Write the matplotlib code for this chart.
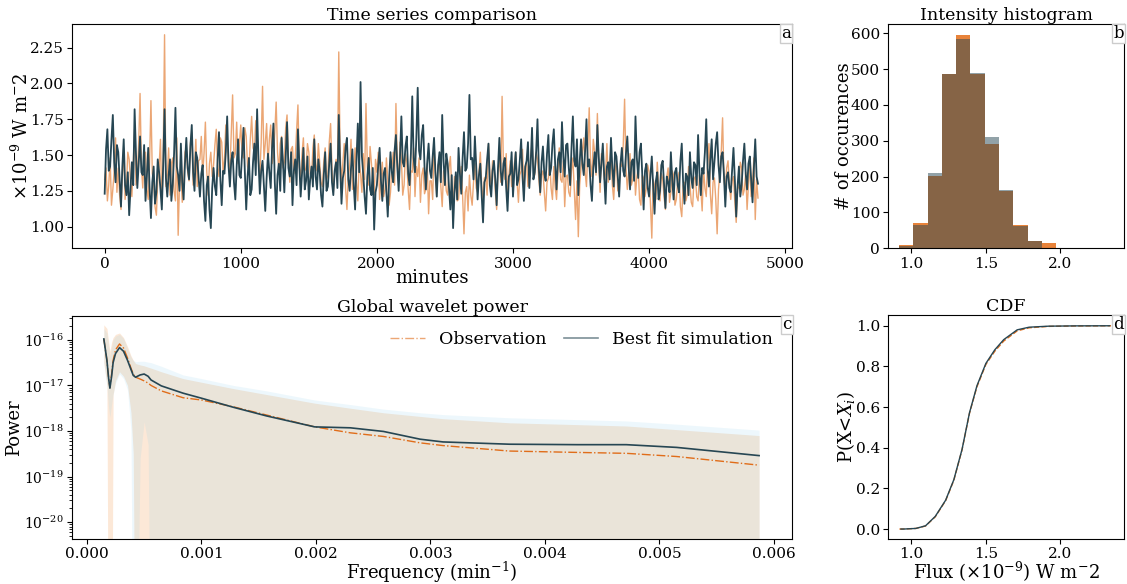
import numpy as np
import matplotlib
matplotlib.use("Agg")
import matplotlib.pyplot as plt
from matplotlib.lines import Line2D

plt.rcParams["font.family"] = "DejaVu Serif"
plt.rcParams["mathtext.fontset"] = "dejavuserif"

# ---- time series, one value every 10 minutes, x1e-9 W m^-2
ts_step = 10
obs_flux = [
    1.33, 1.41, 1.18, 1.29, 1.48, 1.15, 1.26, 1.39, 1.62, 1.24,
    1.41, 1.22, 1.12, 1.36, 1.55, 1.19, 1.28, 1.52, 1.47, 1.31,
    1.21, 1.44, 1.68, 1.29, 1.35, 1.58, 1.93, 1.42, 1.27, 1.49,
    1.52, 1.26, 1.19, 1.45, 1.88, 1.37, 1.31, 1.14, 1.08, 1.33,
    1.42, 1.61, 1.15, 1.48, 2.34, 1.28, 1.36, 1.55, 1.22, 1.44,
    1.48, 1.25, 1.18, 1.62, 0.94, 1.31, 1.39, 1.17, 1.27, 1.52,
    1.55, 1.38, 1.32, 1.58, 1.66, 1.29, 1.41, 1.61, 1.28, 1.46,
    1.47, 1.63, 1.36, 1.51, 1.73, 1.39, 1.22, 1.44, 1.52, 1.35,
    1.43, 1.57, 1.68, 1.41, 1.35, 1.62, 1.59, 1.38, 1.47, 1.71,
    1.62, 1.45, 1.38, 1.66, 1.92, 1.48, 1.51, 1.73, 1.44, 1.58,
    1.71, 1.52, 1.48, 1.69, 1.63, 1.42, 1.39, 1.61, 1.77, 1.55,
    1.52, 1.74, 1.66, 1.45, 1.36, 1.59, 1.98, 1.47, 1.58, 1.72,
    1.42, 1.61, 1.71, 1.44, 1.49, 1.66, 1.87, 1.52, 1.39, 1.58,
    1.63, 1.41, 1.45, 1.69, 1.78, 1.48, 1.31, 1.54, 1.56, 1.37,
    1.48, 1.67, 1.85, 1.42, 1.33, 1.51, 1.62, 1.39, 1.41, 1.58,
    1.52, 1.37, 1.34, 1.55, 1.64, 1.43, 1.39, 1.58, 1.45, 1.31,
    1.28, 1.46, 1.55, 1.33, 1.36, 1.59, 1.72, 1.41, 1.24, 1.38,
    1.47, 1.36, 2.22, 1.52, 1.31, 1.44, 1.58, 1.27, 1.12, 1.35,
    1.42, 1.61, 1.26, 1.39, 1.55, 1.31, 1.18, 1.46, 1.37, 1.24,
    1.51, 1.33, 1.86, 1.42, 1.29, 1.56, 1.44, 1.31, 1.22, 1.47,
    1.38, 1.52, 1.19, 1.34, 1.45, 1.21, 1.26, 1.48, 1.33, 1.15,
    1.24, 1.41, 1.52, 1.29, 1.86, 1.45, 1.31, 1.59, 1.47, 1.22,
    1.29, 1.51, 1.45, 1.26, 1.12, 1.39, 1.38, 1.55, 1.21, 1.42,
    1.35, 1.48, 1.17, 1.36, 1.41, 1.23, 1.26, 1.44, 1.09, 1.32,
    1.32, 1.19, 1.58, 1.37, 1.21, 1.43, 1.46, 1.28, 1.14, 1.39,
    1.38, 1.25, 1.22, 1.41, 1.49, 1.27, 1.08, 1.35, 1.31, 1.18,
    1.19, 1.33, 1.42, 1.21, 0.95, 1.24, 1.28, 1.11, 1.36, 1.22,
    1.15, 1.31, 1.44, 1.27, 1.24, 1.38, 1.52, 1.29, 1.18, 1.34,
    1.35, 1.22, 1.58, 1.37, 1.27, 1.46, 1.41, 1.25, 1.12, 1.39,
    1.48, 1.31, 1.91, 1.42, 1.33, 1.51, 1.22, 1.36, 1.46, 1.28,
    1.29, 1.44, 1.52, 1.31, 1.17, 1.36, 1.39, 1.54, 1.26, 1.41,
    1.45, 1.28, 1.31, 1.49, 1.58, 1.42, 1.36, 1.52, 1.47, 1.33,
    1.22, 1.36, 1.39, 1.24, 1.11, 1.31, 1.34, 1.45, 1.27, 1.19,
    1.42, 1.28, 1.19, 1.37, 1.55, 1.33, 1.31, 1.46, 1.14, 1.35,
    1.36, 1.24, 1.21, 1.39, 1.48, 1.26, 1.05, 1.32, 0.93, 1.29,
    1.41, 1.53, 1.62, 1.38, 1.28, 1.56, 1.83, 1.44, 1.35, 1.61,
    1.52, 1.36, 1.79, 1.45, 1.24, 1.51, 1.48, 1.33, 1.37, 1.58,
    1.31, 1.42, 1.55, 1.29, 1.19, 1.38, 1.46, 1.25, 1.28, 1.44,
    1.42, 1.57, 1.89, 1.41, 1.26, 1.38, 1.51, 1.29, 1.33, 1.47,
    1.22, 1.35, 1.41, 1.19, 1.15, 1.36, 1.34, 1.21, 1.27, 1.43,
    1.38, 1.16, 0.92, 1.33, 1.29, 1.19, 1.45, 1.28, 1.18, 1.37,
    1.33, 1.21, 1.12, 1.35, 1.41, 1.17, 1.24, 1.39, 1.36, 1.15,
    1.19, 1.32, 1.38, 1.14, 1.07, 1.29, 1.31, 1.18, 1.22, 1.42,
    1.29, 1.17, 1.14, 1.33, 1.35, 1.21, 1.18, 1.36, 1.26, 1.11,
    1.41, 1.27, 1.21, 1.45, 1.58, 1.23, 1.09, 1.31, 1.34, 1.19,
    0.95, 1.26, 1.38, 1.52, 1.76, 1.33, 1.25, 1.41, 1.46, 1.29,
    1.19, 1.32, 1.35, 1.17, 1.03, 1.26, 1.28, 1.45, 1.41, 1.22,
    1.26, 1.38, 1.12, 1.29, 1.44, 1.21, 1.31, 1.48, 1.05, 1.33,
    1.20,
]
sim_flux = [
    1.23, 1.54, 1.68, 1.39, 1.42, 1.61, 1.78, 1.45, 1.31, 1.57,
    1.52, 1.33, 1.14, 1.42, 1.61, 1.29, 1.22, 1.38, 1.08, 1.26,
    1.45, 1.29, 1.82, 1.51, 1.27, 1.44, 1.63, 1.38, 1.36, 1.57,
    1.18, 1.35, 1.55, 1.27, 1.06, 1.31, 1.42, 1.16, 1.24, 1.47,
    1.38, 1.26, 1.12, 1.43, 1.82, 1.34, 1.21, 1.36, 1.47, 1.18,
    1.29, 1.51, 1.83, 1.42, 1.36, 1.25, 1.58, 1.31, 1.19, 1.44,
    1.62, 1.41, 1.33, 1.56, 1.71, 1.38, 1.25, 1.52, 1.48, 1.34,
    1.21, 1.37, 1.43, 1.18, 1.04, 1.29, 1.35, 1.12, 0.99, 1.27,
    1.41, 1.28, 1.22, 1.47, 1.66, 1.33, 1.15, 1.39, 1.37, 1.52,
    1.77, 1.43, 1.28, 1.46, 1.52, 1.31, 1.19, 1.42, 1.61, 1.36,
    1.34, 1.51, 1.69, 1.38, 1.12, 1.35, 1.48, 1.22, 1.26, 1.45,
    1.58, 1.36, 1.82, 1.47, 1.23, 1.39, 1.46, 1.28, 1.11, 1.34,
    1.51, 1.38, 1.27, 1.55, 1.72, 1.31, 1.09, 1.36, 1.44, 1.25,
    1.62, 1.45, 1.24, 1.48, 1.73, 1.41, 1.35, 1.52, 1.15, 1.39,
    1.47, 1.29, 1.68, 1.44, 1.21, 1.37, 1.55, 1.26, 1.32, 1.49,
    1.19, 1.33, 1.42, 1.28, 1.61, 1.35, 1.26, 1.47, 1.38, 1.22,
    1.14, 1.36, 1.52, 1.25, 1.28, 1.44, 1.58, 1.31, 1.22, 1.39,
    1.45, 1.27, 1.78, 1.43, 1.16, 1.34, 1.39, 1.55, 1.62, 1.33,
    1.25, 1.41, 1.54, 1.29, 1.12, 1.46, 1.72, 1.38, 2.01, 1.49,
    1.36, 1.21, 1.09, 1.35, 1.48, 1.26, 1.22, 1.41, 0.98, 1.24,
    1.29, 1.43, 1.55, 1.32, 1.18, 1.37, 1.41, 1.24, 1.07, 1.33,
    1.52, 1.38, 1.31, 1.53, 1.64, 1.42, 1.25, 1.49, 1.77, 1.45,
    1.42, 1.56, 1.63, 1.37, 1.29, 1.51, 1.91, 1.48, 1.38, 1.62,
    1.97, 1.53, 1.47, 1.64, 1.71, 1.42, 1.26, 1.45, 1.58, 1.39,
    1.34, 1.49, 1.62, 1.38, 1.21, 1.43, 1.52, 1.31, 1.78, 1.46,
    1.29, 1.51, 1.44, 1.27, 1.12, 1.36, 0.99, 1.24, 1.38, 1.19,
    1.55, 1.37, 1.23, 1.48, 1.66, 1.39, 1.41, 1.58, 1.92, 1.47,
    1.48, 1.33, 1.63, 1.42, 1.19, 1.36, 1.44, 1.22, 1.03, 1.31,
    1.34, 1.47, 1.58, 1.29, 1.21, 1.39, 1.46, 1.33, 1.15, 1.41,
    1.62, 1.39, 1.29, 1.44, 1.48, 1.27, 1.11, 1.35, 1.37, 1.52,
    1.21, 1.38, 1.52, 1.29, 1.33, 1.46, 1.61, 1.35, 1.18, 1.42,
    1.46, 1.59, 1.27, 1.44, 1.69, 1.33, 1.38, 1.52, 1.75, 1.41,
    1.24, 1.45, 1.56, 1.37, 1.32, 1.51, 1.64, 1.36, 1.41, 1.58,
    1.68, 1.43, 1.26, 1.47, 1.52, 1.38, 1.73, 1.49, 1.35, 1.57,
    1.58, 1.41, 1.29, 1.55, 1.77, 1.46, 1.42, 1.61, 1.22, 1.45,
    1.61, 1.44, 1.36, 1.53, 1.75, 1.42, 1.47, 1.29, 1.18, 1.41,
    1.52, 1.38, 1.71, 1.49, 1.31, 1.45, 1.58, 1.36, 1.16, 1.42,
    1.45, 1.33, 1.62, 1.41, 1.28, 1.52, 1.49, 1.35, 1.21, 1.44,
    1.55, 1.39, 1.35, 1.51, 1.63, 1.42, 1.26, 1.45, 1.47, 1.32,
    1.77, 1.48, 1.34, 1.52, 1.58, 1.36, 1.12, 1.39, 1.44, 1.27,
    1.21, 1.36, 1.49, 1.28, 1.09, 1.32, 1.38, 1.19, 1.25, 1.43,
    1.46, 1.29, 1.13, 1.35, 1.31, 1.24, 1.52, 1.33, 1.19, 1.38,
    1.41, 1.29, 1.24, 1.46, 1.58, 1.31, 1.16, 1.37, 1.35, 1.22,
    1.52, 1.34, 1.27, 1.45, 1.43, 1.29, 1.64, 1.38, 1.22, 1.41,
    1.37, 1.52, 1.75, 1.41, 1.28, 1.47, 1.61, 1.33, 1.45, 1.58,
    1.66, 1.43, 1.31, 1.49, 1.52, 1.36, 1.14, 1.35, 1.38, 1.27,
    1.24, 1.39, 1.55, 1.33, 1.07, 1.28, 1.42, 1.21, 1.29, 1.46,
    1.58, 1.37, 1.26, 1.44, 1.49, 1.33, 1.17, 1.41, 1.61, 1.35,
    1.30,
]

# ---- intensity histogram (15 bins between data min and max)
hist_lo, hist_hi, hist_nbins = 0.917, 2.355, 15
obs_counts = [8, 70, 203, 487, 594, 487, 292, 160, 65, 20, 15, 0, 0, 1, 1]
sim_counts = [6, 65, 209, 486, 584, 489, 311, 163, 63, 19, 2, 1, 1, 0, 1]

# ---- global wavelet power (log10 of power)
freq = [0.000148, 0.000175, 0.000190, 0.000201, 0.000216, 0.000229, 0.000250,
        0.000285, 0.000320, 0.000355, 0.000385, 0.000405, 0.000425, 0.000465,
        0.000500, 0.000535, 0.000560, 0.000650, 0.000840, 0.00100, 0.00128,
        0.00157, 0.00199, 0.00230, 0.00259, 0.00291, 0.00311, 0.00369,
        0.00428, 0.00471, 0.00515, 0.00587]
obs_logpow = [-15.98, -16.45, -16.85, -17.05, -16.75, -16.45, -16.22, -16.09,
              -16.18, -16.40, -16.62, -16.75, -16.82, -16.86, -16.90, -16.95,
              -17.00, -17.12, -17.27, -17.32, -17.47, -17.65, -17.91, -18.04,
              -18.12, -18.26, -18.32, -18.44, -18.47, -18.49, -18.56, -18.75]
sim_logpow = [-15.98, -16.45, -16.85, -17.06, -16.80, -16.50, -16.30, -16.17,
              -16.25, -16.45, -16.65, -16.78, -16.82, -16.77, -16.75, -16.80,
              -16.88, -17.01, -17.17, -17.28, -17.48, -17.67, -17.91, -17.93,
              -18.01, -18.18, -18.24, -18.29, -18.30, -18.30, -18.36, -18.54]
obs_logup = [-15.67, -15.75, -16.05, -16.25, -16.05, -15.95, -15.88, -15.85,
             -15.95, -16.15, -16.35, -16.45, -16.52, -16.55, -16.57, -16.60,
             -16.62, -16.70, -16.85, -16.93, -17.07, -17.20, -17.39, -17.50,
             -17.60, -17.68, -17.73, -17.82, -17.86, -17.89, -17.97, -18.10]
sim_logup = [-15.75, -15.85, -16.15, -16.35, -16.15, -16.00, -15.92, -15.88,
             -15.97, -16.20, -16.38, -16.45, -16.48, -16.47, -16.47, -16.49,
             -16.50, -16.58, -16.77, -16.85, -17.00, -17.12, -17.32, -17.42,
             -17.52, -17.60, -17.64, -17.71, -17.75, -17.78, -17.85, -17.98]
obs_loglow = [-16.5, -17.0, -25, -25, -25, -17.2, -16.9, -16.70, -16.8, -17.0,
              -17.6, -18.5, -25, -25, -25, -25, -25, -25, -25, -25, -25, -25,
              -25, -25, -25, -25, -25, -25, -25, -25, -25, -25]
sim_loglow = [-16.5, -17.0, -17.5, -17.7, -17.4, -17.2, -16.95, -16.75, -16.85,
              -17.1, -18.0, -25, -25, -18.6, -17.8, -18.3, -25, -25, -25, -25,
              -25, -25, -25, -25, -25, -25, -25, -25, -25, -25, -25, -25]

# ---- CDF
cdf_x_obs = [0.92, 0.94, 1.03, 1.095, 1.16, 1.23, 1.285, 1.34, 1.39, 1.44,
             1.50, 1.56, 1.62, 1.71, 1.79, 1.92, 2.10, 2.34]
cdf_y_obs = [0.0, 0.0, 0.003, 0.015, 0.06, 0.14, 0.24, 0.39, 0.57, 0.70,
             0.81, 0.875, 0.925, 0.975, 0.99, 0.997, 0.999, 1.0]
cdf_x_sim = [0.93, 0.95, 1.03, 1.095, 1.16, 1.23, 1.285, 1.34, 1.39, 1.44,
             1.50, 1.56, 1.62, 1.71, 1.79, 1.92, 2.10, 2.33]
cdf_y_sim = [0.0, 0.0, 0.003, 0.016, 0.062, 0.142, 0.243, 0.392, 0.572, 0.705,
             0.815, 0.882, 0.932, 0.98, 0.993, 0.998, 0.9995, 1.0]

c_obs_ts = "#eba674"
c_obs = "#e06d1a"
c_sim = "#264653"

fig = plt.figure(figsize=(11.27, 5.84), dpi=100)
W, H = 1127.0, 584.0


def box(l, t, r, b):
    return [l / W, 1 - b / H, (r - l) / W, (b - t) / H]


def tag(ax, s):
    ax.text(0.999, 0.997, s, transform=ax.transAxes, ha="right", va="top",
            fontsize=12, bbox=dict(boxstyle="square,pad=0.06", fc="white",
                                   ec="#cccccc", lw=1))


fs_t, fs_l, fs_k = 12.5, 13, 11


def style(ax):
    ax.tick_params(labelsize=fs_k, length=3.5, pad=2.5)


# a: time series
ax = fig.add_axes(box(72, 24.3, 792, 248.3))
t = np.arange(len(obs_flux)) * ts_step
ax.plot(t, obs_flux, color=c_obs_ts, lw=1.0)
ax.plot(t, sim_flux, color=c_sim, lw=1.3)
ax.set_xlim(-240, 5050)
ax.set_ylim(0.849, 2.413)
ax.set_title("Time series comparison", fontsize=fs_t, pad=3)
ax.set_xlabel("minutes", fontsize=fs_l)
ax.set_ylabel(r"$\times10^{-9}$ W m$^{-}$2", fontsize=fs_l)
style(ax)
ax.xaxis.set_label_coords(0.5, -0.092)
ax.yaxis.set_label_coords(-0.056, 0.5)
tag(ax, "a")

# b: histogram
ax = fig.add_axes(box(888.3, 24.3, 1124, 248.3))
edges = np.linspace(hist_lo, hist_hi, hist_nbins + 1)
mids = 0.5 * (edges[1:] + edges[:-1])
ax.hist(mids, bins=edges, weights=obs_counts, color="#e8833a")
ax.hist(mids, bins=edges, weights=sim_counts, color=c_sim, alpha=0.5)
ax.set_xlim(0.845, 2.427)
ax.set_ylim(0, 625)
ax.set_title("Intensity histogram", fontsize=fs_t, pad=3)
ax.set_ylabel("# of occurences", fontsize=fs_l)
style(ax)
ax.yaxis.set_label_coords(-0.15, 0.5)
tag(ax, "b")

# c: global wavelet power
ax = fig.add_axes(box(72, 315.7, 792.3, 539))
f = np.array(freq)
ax.fill_between(f, 10.0 ** np.array(obs_loglow), 10.0 ** np.array(obs_logup),
                color="sandybrown", alpha=0.25, lw=0)
ax.fill_between(f, 10.0 ** np.array(sim_loglow), 10.0 ** np.array(sim_logup),
                color="skyblue", alpha=0.15, lw=0)
ax.plot(f, 10.0 ** np.array(obs_logpow), color=c_obs, ls="-.", lw=1.0)
ax.plot(f, 10.0 ** np.array(sim_logpow), color=c_sim, ls="-", lw=1.2)
ax.set_yscale("log")
ax.set_xlim(-0.00013, 0.00616)
ax.set_ylim(10 ** -20.37, 10 ** -15.47)
ax.set_title("Global wavelet power", fontsize=fs_t, pad=3)
ax.set_xlabel(r"Frequency (min$^{-1}$)", fontsize=fs_l)
ax.set_ylabel("Power", fontsize=fs_l)
style(ax)
ax.tick_params(axis="y", labelsize=10)
ax.xaxis.set_label_coords(0.5, -0.094)
ax.yaxis.set_label_coords(-0.068, 0.5)
handles = [Line2D([], [], color=c_obs, ls="-.", lw=1.0, alpha=0.6),
           Line2D([], [], color=c_sim, ls="-", lw=1.2, alpha=0.6)]
ax.legend(handles, ["Observation", "Best fit simulation"], loc="upper right",
          ncol=2, frameon=False, fontsize=12.5, bbox_to_anchor=(0.995, 1.0),
          handlelength=2.0, columnspacing=1.0)
tag(ax, "c")

# d: CDF
ax = fig.add_axes(box(888.3, 315, 1124, 539))
ax.plot(cdf_x_obs, cdf_y_obs, color=c_obs, ls="--", lw=1.0)
ax.plot(cdf_x_sim, cdf_y_sim, color=c_sim, lw=1.0)
ax.set_xlim(0.845, 2.427)
ax.set_ylim(-0.049, 1.053)
ax.set_title("CDF", fontsize=fs_t, pad=3)
ax.set_xlabel(r"Flux ($\times10^{-9}$) W m$^{-}$2", fontsize=fs_l)
ax.set_ylabel(r"P(X<$X_i$)", fontsize=fs_l)
style(ax)
ax.xaxis.set_label_coords(0.5, -0.094)
ax.yaxis.set_label_coords(-0.133, 0.5)
tag(ax, "d")

fig.savefig("out.png", dpi=100)
